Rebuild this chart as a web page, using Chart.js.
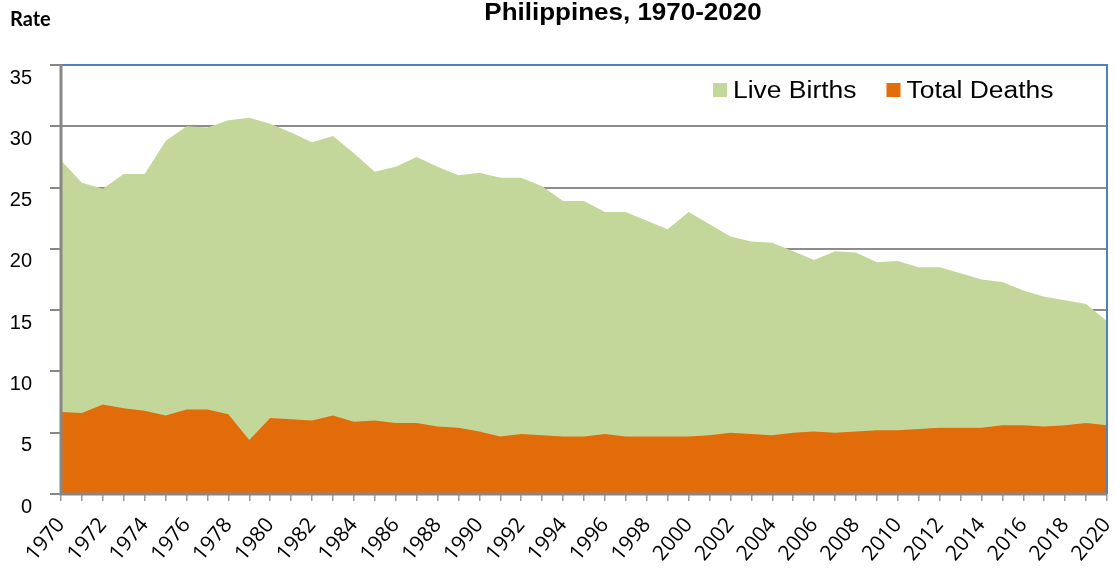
<!DOCTYPE html>
<html>
<head>
<meta charset="utf-8">
<title>Philippines, 1970-2020</title>
<script src="https://cdn.jsdelivr.net/npm/chart.js@4.4.1/dist/chart.umd.min.js"></script>
<style>
    body { margin: 0; background: #fff; }
    canvas { display: block; }
</style>
</head>
<body>
<canvas id="chart" width="1115" height="573"></canvas>
<script>
const years = [
    "1970", "1971", "1972", "1973", "1974", "1975", "1976", "1977", "1978", "1979",
    "1980", "1981", "1982", "1983", "1984", "1985", "1986", "1987", "1988", "1989",
    "1990", "1991", "1992", "1993", "1994", "1995", "1996", "1997", "1998", "1999",
    "2000", "2001", "2002", "2003", "2004", "2005", "2006", "2007", "2008", "2009",
    "2010", "2011", "2012", "2013", "2014", "2015", "2016", "2017", "2018", "2019",
    "2020"
];
const liveBirths = [
    27.2, 25.4, 24.9, 26.1, 26.1, 28.8, 30.0, 29.9, 30.5, 30.7,
    30.2, 29.5, 28.7, 29.2, 27.8, 26.3, 26.7, 27.5, 26.7, 26.0,
    26.2, 25.8, 25.8, 25.1, 23.9, 23.9, 23.0, 23.0, 22.3, 21.6,
    23.0, 22.0, 21.0, 20.6, 20.5, 19.8, 19.1, 19.8, 19.7, 18.9,
    19.0, 18.5, 18.5, 18.0, 17.5, 17.3, 16.6, 16.1, 15.8, 15.5,
    14.1
];
const totalDeaths = [
    6.7, 6.6, 7.3, 7.0, 6.8, 6.4, 6.9, 6.9, 6.5, 4.4,
    6.2, 6.1, 6.0, 6.4, 5.9, 6.0, 5.8, 5.8, 5.5, 5.4,
    5.1, 4.7, 4.9, 4.8, 4.7, 4.7, 4.9, 4.7, 4.7, 4.7,
    4.7, 4.8, 5.0, 4.9, 4.8, 5.0, 5.1, 5.0, 5.1, 5.2,
    5.2, 5.3, 5.4, 5.4, 5.4, 5.6, 5.6, 5.5, 5.6, 5.8,
    5.6
];
const yTicks = [0, 5, 10, 15, 20, 25, 30, 35];

const chartTitle = "Philippines, 1970-2020";
const yTitle = "Rate";

const GREEN = "#C4D79B";
const ORANGE = "#E36C0A";

// text in the original looks a bit stretched sideways
function wideText(ctx, text, x, y, sx) {
    ctx.save();
    ctx.translate(x, y);
    ctx.scale(sx, 1);
    ctx.fillText(text, 0, 0);
    ctx.restore();
}

const decor = {
    id: "decor",
    afterDatasetsDraw(chart) {
        const ctx = chart.ctx;
        const a = chart.chartArea;
        ctx.save();
        ctx.strokeStyle = "#4F81BD";
        ctx.lineWidth = 2;
        ctx.beginPath();
        ctx.moveTo(a.left, a.top);
        ctx.lineTo(a.right, a.top);
        ctx.lineTo(a.right, a.bottom);
        ctx.stroke();

        ctx.strokeStyle = "#878787";
        ctx.lineWidth = 3;
        ctx.beginPath();
        ctx.moveTo(a.left, a.top - 1);
        ctx.lineTo(a.left, a.bottom);
        ctx.lineTo(a.right, a.bottom);
        ctx.stroke();
        ctx.restore();
    },
    afterDraw(chart) {
        const ctx = chart.ctx;
        const a = chart.chartArea;
        ctx.save();
        ctx.fillStyle = "#000";
        ctx.textBaseline = "alphabetic";

        // title
        ctx.font = "bold 23px 'Liberation Sans', Arial, sans-serif";
        let w = ctx.measureText(chartTitle).width * 1.13;
        wideText(ctx, chartTitle, 623 - w / 2, 20, 1.13);

        // axis title
        ctx.font = "bold 20px Lato, 'Open Sans', sans-serif";
        ctx.fillText(yTitle, 10, 26);

        // legend, inside the plot
        const sx = 1.15;
        ctx.font = "23px 'Liberation Sans', Arial, sans-serif";
        let x = a.left + 652;
        chart.data.datasets.forEach(function (ds) {
            ctx.fillStyle = ds.backgroundColor;
            ctx.fillRect(x, 83, 14, 14);
            ctx.fillStyle = "#000";
            wideText(ctx, ds.label, x + 20, 98, sx);
            x += 20 + ctx.measureText(ds.label).width * sx + 30;
        });
        ctx.restore();
    }
};

new Chart(document.getElementById("chart"), {
    type: "line",
    data: {
        labels: years,
        datasets: [
            {
                label: "Live Births",
                data: liveBirths,
                backgroundColor: GREEN,
                borderColor: GREEN,
                fill: "origin",
                order: 1,
            },
            {
                label: "Total Deaths",
                data: totalDeaths,
                backgroundColor: ORANGE,
                borderColor: ORANGE,
                fill: "origin",
                order: 0,
            },
        ],
    },
    options: {
        responsive: false,
        animation: false,
        events: [],
        layout: { padding: { top: 65, right: 8, left: 0, bottom: 0 } },
        elements: {
            line: { tension: 0, borderWidth: 0 },
            point: { radius: 0 },
        },
        plugins: {
            legend: { display: false },
            tooltip: { enabled: false },
        },
        scales: {
            x: {
                border: { display: false },
                grid: {
                    drawOnChartArea: false,
                    drawTicks: true,
                    tickLength: 7,
                    color: "#9A9A9A",
                    lineWidth: 1.5,
                },
                ticks: {
                    autoSkip: false,
                    minRotation: 50,
                    maxRotation: 50,
                    padding: 12,
                    color: "#000",
                    font: { family: "'Open Sans', sans-serif", size: 21 },
                    callback: function (value, index) {
                        return index % 2 === 0 ? years[index] : "";
                    },
                },
                afterFit: function (scale) {
                    scale.height = 79;
                    scale.paddingLeft = 0;
                    scale.paddingRight = 0;
                },
            },
            y: {
                min: yTicks[0],
                max: yTicks[yTicks.length - 1],
                border: { display: false },
                grid: {
                    color: "#8C8C8C",
                    lineWidth: 2,
                    tickLength: 11,
                    tickColor: "#888888",
                },
                ticks: {
                    stepSize: 5,
                    padding: 18,
                    labelOffset: 13,
                    color: "#000",
                    font: { family: "'Liberation Sans', Arial, sans-serif", size: 20 },
                },
                afterBuildTicks: function (scale) {
                    scale.ticks = yTicks.map(function (v) { return { value: v }; });
                },
                afterFit: function (scale) {
                    scale.width = 61;
                    scale.paddingTop = 0;
                    scale.paddingBottom = 0;
                },
            },
        },
    },
    plugins: [decor],
});
</script>
</body>
</html>
